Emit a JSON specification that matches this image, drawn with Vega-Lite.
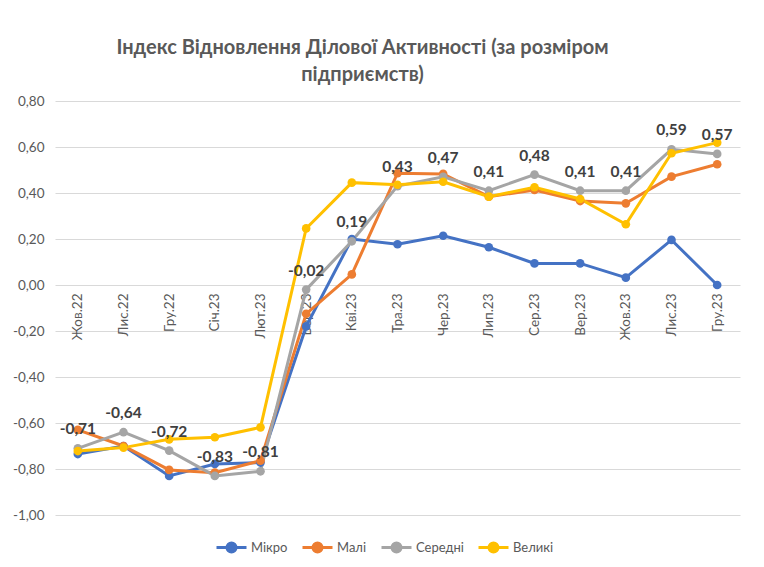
{
  "$schema": "https://vega.github.io/schema/vega-lite/v6.json",
  "autosize": {"type": "none"},
  "width": 685,
  "height": 414,
  "padding": {"left": 55, "top": 101, "right": 24, "bottom": 52},
  "background": "white",
  "config": {
    "locale": {
      "number": {"decimal": ",", "thousands": " ", "grouping": [3], "currency": ["", " ₴"], "minus": "-"}
    },
    "font": "Lato",
    "view": {"stroke": null}
  },
  "title": {
    "text": ["Індекс Відновлення Ділової Активності (за розміром", "підприємств)"],
    "font": "Lato",
    "fontSize": 20,
    "fontWeight": "bold",
    "color": "#595959",
    "lineHeight": 27,
    "anchor": "middle",
    "dx": -35,
    "offset": 9
  },
  "data": {
    "values": [
      {"month": "Жов.22", "series": "Мікро", "value": -0.735},
      {"month": "Лис.22", "series": "Мікро", "value": -0.7},
      {"month": "Гру.22", "series": "Мікро", "value": -0.83},
      {"month": "Січ.23", "series": "Мікро", "value": -0.778},
      {"month": "Лют.23", "series": "Мікро", "value": -0.772},
      {"month": "Бер.23", "series": "Мікро", "value": -0.18},
      {"month": "Кві.23", "series": "Мікро", "value": 0.2},
      {"month": "Тра.23", "series": "Мікро", "value": 0.177},
      {"month": "Чер.23", "series": "Мікро", "value": 0.214},
      {"month": "Лип.23", "series": "Мікро", "value": 0.164},
      {"month": "Сер.23", "series": "Мікро", "value": 0.094},
      {"month": "Вер.23", "series": "Мікро", "value": 0.094},
      {"month": "Жов.23", "series": "Мікро", "value": 0.032},
      {"month": "Лис.23", "series": "Мікро", "value": 0.196},
      {"month": "Гру.23", "series": "Мікро", "value": 0.0},

      {"month": "Жов.22", "series": "Малі", "value": -0.63},
      {"month": "Лис.22", "series": "Малі", "value": -0.7},
      {"month": "Гру.22", "series": "Малі", "value": -0.804},
      {"month": "Січ.23", "series": "Малі", "value": -0.816},
      {"month": "Лют.23", "series": "Малі", "value": -0.764},
      {"month": "Бер.23", "series": "Малі", "value": -0.125},
      {"month": "Кві.23", "series": "Малі", "value": 0.046},
      {"month": "Тра.23", "series": "Малі", "value": 0.486},
      {"month": "Чер.23", "series": "Малі", "value": 0.483},
      {"month": "Лип.23", "series": "Малі", "value": 0.384},
      {"month": "Сер.23", "series": "Малі", "value": 0.413},
      {"month": "Вер.23", "series": "Малі", "value": 0.365},
      {"month": "Жов.23", "series": "Малі", "value": 0.355},
      {"month": "Лис.23", "series": "Малі", "value": 0.471},
      {"month": "Гру.23", "series": "Малі", "value": 0.525},

      {"month": "Жов.22", "series": "Середні", "value": -0.71},
      {"month": "Лис.22", "series": "Середні", "value": -0.64},
      {"month": "Гру.22", "series": "Середні", "value": -0.72},
      {"month": "Січ.23", "series": "Середні", "value": -0.83},
      {"month": "Лют.23", "series": "Середні", "value": -0.81},
      {"month": "Бер.23", "series": "Середні", "value": -0.02},
      {"month": "Кві.23", "series": "Середні", "value": 0.19},
      {"month": "Тра.23", "series": "Середні", "value": 0.43},
      {"month": "Чер.23", "series": "Середні", "value": 0.47},
      {"month": "Лип.23", "series": "Середні", "value": 0.41},
      {"month": "Сер.23", "series": "Середні", "value": 0.48},
      {"month": "Вер.23", "series": "Середні", "value": 0.41},
      {"month": "Жов.23", "series": "Середні", "value": 0.41},
      {"month": "Лис.23", "series": "Середні", "value": 0.59},
      {"month": "Гру.23", "series": "Середні", "value": 0.57},

      {"month": "Жов.22", "series": "Великі", "value": -0.722},
      {"month": "Лис.22", "series": "Великі", "value": -0.707},
      {"month": "Гру.22", "series": "Великі", "value": -0.671},
      {"month": "Січ.23", "series": "Великі", "value": -0.662},
      {"month": "Лют.23", "series": "Великі", "value": -0.619},
      {"month": "Бер.23", "series": "Великі", "value": 0.246},
      {"month": "Кві.23", "series": "Великі", "value": 0.445},
      {"month": "Тра.23", "series": "Великі", "value": 0.436},
      {"month": "Чер.23", "series": "Великі", "value": 0.449},
      {"month": "Лип.23", "series": "Великі", "value": 0.384},
      {"month": "Сер.23", "series": "Великі", "value": 0.425},
      {"month": "Вер.23", "series": "Великі", "value": 0.374},
      {"month": "Жов.23", "series": "Великі", "value": 0.264},
      {"month": "Лис.23", "series": "Великі", "value": 0.573},
      {"month": "Гру.23", "series": "Великі", "value": 0.619}
    ]
  },
  "encoding": {
    "x": {
      "field": "month",
      "type": "ordinal",
      "sort": null,
      "title": null,
      "axis": {
        "offset": -230,
        "labelAngle": -90,
        "labelPadding": 8,
        "labelFontSize": 13.5,
        "labelColor": "#595959",
        "ticks": false,
        "domain": false,
        "grid": false
      }
    },
    "y": {
      "field": "value",
      "type": "quantitative",
      "title": null,
      "scale": {"domain": [-1, 0.8], "nice": false, "zero": false},
      "axis": {
        "values": [-1, -0.8, -0.6, -0.4, -0.2, 0, 0.2, 0.4, 0.6, 0.8],
        "format": ".2f",
        "labelFontSize": 13.5,
        "labelColor": "#595959",
        "labelPadding": 11,
        "ticks": false,
        "domain": false,
        "gridColor": "#d9d9d9",
        "gridWidth": 1
      }
    }
  },
  "layer": [
    {
      "mark": {"type": "line", "strokeWidth": 3, "point": {"filled": true, "size": 75}},
      "encoding": {
        "color": {
          "field": "series",
          "type": "nominal",
          "title": null,
          "scale": {
            "domain": ["Мікро", "Малі", "Середні", "Великі"],
            "range": ["#4472C4", "#ED7D31", "#A5A5A5", "#FFC000"]
          },
          "legend": {
            "orient": "none",
            "direction": "horizontal",
            "legendX": 160,
            "legendY": 430,
            "symbolType": "M-1,0L-0.3,0M0.3,0L1,0M-0.3,0A0.3,0.3 0 1,0 0.3,0A0.3,0.3 0 1,0 -0.3,0",
            "symbolSize": 900,
            "symbolStrokeWidth": 3,
            "labelFontSize": 13,
            "labelColor": "#595959",
            "labelOffset": 3,
            "columnPadding": 8,
            "encode": {
              "symbols": {
                "update": {
                  "fill": {"scale": "color", "field": "value"},
                  "stroke": {"scale": "color", "field": "value"},
                  "opacity": {"value": 1}
                }
              }
            }
          }
        }
      }
    },
    {
      "transform": [{"filter": "datum.series === 'Середні'"}],
      "mark": {"type": "text", "dy": -19, "fontSize": 15.5, "fontWeight": "bold", "color": "#404040"},
      "encoding": {
        "text": {"field": "value", "type": "quantitative", "format": ".2f"}
      }
    }
  ]
}
